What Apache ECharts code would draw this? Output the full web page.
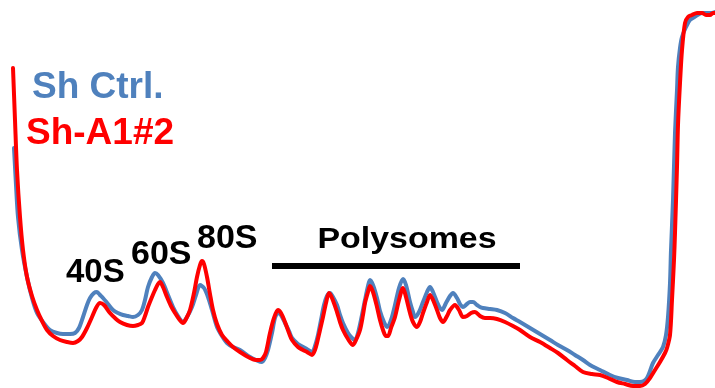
<!DOCTYPE html>
<html>
<head>
<meta charset="utf-8">
<script src="https://cdn.jsdelivr.net/npm/echarts@6/dist/echarts.min.js"></script>
<style>html,body{margin:0;padding:0;background:#fff;}#c{width:715px;height:388px;}</style>
</head>
<body>
<div id="c"></div>
<script>
// Sedimentation position (x) and absorbance (y, arbitrary units)
const ctrlProfile = [
[14,240],[16,203],[18,171],[22,138],[27,111],[32,90],[37,75],[43,66],[50,58],[57,55],[63,54],[70,54],[75,55],[79,60],[83,71],[87,83],[90,90],[94,95],[97,96],[100,93],[103,90],[108,84],[113,78],[118,75],[123,73],[128,72],[133,71],[138,73],[142,78],[145,88],[148,101],[152,111],[155,115],[158,113],[163,105],[168,93],[173,81],[178,72],[183,66],[187,71],[192,81],[196,93],[200,103],[204,100],[208,91],[212,78],[217,61],[222,52],[227,45],[233,41],[240,38],
[250,31],[256,28],[262,26],[265,30],[268,38],[272,55],[275,70],[278,75],[281,73],[285,65],[289,57],[292,50],[298,44],[305,40],[312,36],[315,42],[318,53],[321,68],[324,83],[327,92],[330,95],[333,91],[337,83],[340,73],[343,65],[348,55],[352,50],[355,48],[358,55],[362,73],[365,88],[368,102],[370,108],[373,103],[377,90],[380,77],[384,66],[387,61],[391,68],[395,83],[399,100],[403,109],[406,103],[410,86],[413,76],[415,71],[419,76],[423,86],[427,96],[430,101],[433,96],[437,86],[440,80],[442,78],[446,85],[450,92],[453,95],[457,90],[460,84],[463,81],[467,84],[470,86],[473,86],[477,83],[480,81],[483,80],[490,79],[497,78],[505,75],[513,70],[520,66],[530,60],
[540,54],[550,48],[558,43],[567,38],[575,33],[583,28],[590,23],[600,18],[610,13],[618,10],[627,8],[635,6],[640,6],[644,7],[647,10],[650,17],[653,25],[658,33],[663,41],[666,53],[668,71],[670,105],[671,138],[673,188],[675,255],[677,298],[678,321],[680,340],[682,351],[686,361],[690,368],[696,372],[702,375],[707,375],[712,375],[715,376]
];
const a1Profile = [
[13,320],[15,268],[17,218],[20,171],[23,138],[27,111],[32,92],[37,78],[42,67],[47,58],[53,52],[60,48],[67,46],[73,45],[78,47],[82,51],[87,60],[92,71],[96,80],[100,85],[104,83],[110,75],[115,70],[120,66],[127,63],[133,62],[138,63],[142,65],[145,72],[148,81],[152,91],[155,98],[158,104],[160,106],[163,101],[167,91],[171,82],[175,75],[179,69],[183,65],[186,69],[190,78],[194,95],[197,111],[200,123],[202,127],[204,124],[207,111],[210,94],[213,78],[217,64],[222,53],[228,46],[233,41],[240,36],
[250,30],[256,28],[260,28],[263,30],[266,36],[270,55],[274,70],[278,78],[281,75],[285,66],[289,55],[292,48],[298,41],[303,38],[307,36],[312,33],[315,38],[317,45],[320,58],[323,71],[326,85],[329,95],[332,90],[337,76],[340,66],[343,58],[348,49],[353,43],[356,48],[360,58],[363,73],[365,85],[368,96],[370,102],[373,96],[377,81],[380,68],[383,58],[386,52],[388,52],[391,60],[395,71],[399,88],[403,100],[406,91],[410,75],[413,66],[417,61],[420,66],[423,75],[427,86],[430,93],[433,88],[437,78],[440,70],[443,66],[447,72],[450,78],[455,83],[459,78],[463,71],[467,72],[471,75],[475,76],[480,72],[485,70],[490,70],[497,69],[505,66],[513,62],[520,58],[530,51],
[540,46],[550,40],[558,35],[567,28],[575,22],[583,16],[592,14],[600,13],[608,10],[617,6],[625,4],[633,2],[640,2],[645,4],[650,10],[655,18],[660,26],[665,35],[667,40],[670,53],[672,88],[674,128],[675,155],[677,221],[678,263],[680,305],[682,338],[685,365],[688,371],[692,373],[697,375],[702,375],[706,373],[710,373],[713,375],[715,375]
];
const seriesNames = ['Sh Ctrl.', 'Sh-A1#2'];
const polysomeSpan = [272, 520];
const polysomeLevel = 122;

const chart = echarts.init(document.getElementById('c'), null, {renderer: 'canvas'});
const FONT = '"Liberation Sans", Arial, sans-serif';
function label(text, x, y, size, color, scaleX) {
  return {
    type: 'text', x: x, y: y, scaleX: scaleX || 1, silent: true, z: 100,
    style: {text: text, x: 0, y: 0, fill: color, fontFamily: FONT, fontWeight: 'bold', fontSize: size,
            textAlign: 'left', textVerticalAlign: 'middle'}
  };
}
chart.setOption({
  animation: false,
  backgroundColor: '#fff',
  grid: {left: 0, right: 0, top: 0, bottom: 0},
  xAxis: {type: 'value', min: 0, max: 715, show: false},
  yAxis: {type: 'value', min: 0, max: 388, show: false},
  series: [
    {name: seriesNames[0], type: 'line', data: ctrlProfile, showSymbol: false, smooth: 0.3,
     lineStyle: {color: '#4F81BD', width: 4, join: 'round', cap: 'round'}, z: 2},
    {name: seriesNames[1], type: 'line', data: a1Profile, showSymbol: false, smooth: 0.3,
     lineStyle: {color: '#FF0000', width: 4, join: 'round', cap: 'round'}, z: 3,
     markLine: {silent: true, symbol: ['none','none'], label: {show: false},
       lineStyle: {color: '#000', width: 6, type: 'solid'},
       data: [[{coord: [polysomeSpan[0], polysomeLevel]}, {coord: [polysomeSpan[1], polysomeLevel]}]]}}
  ],
  graphic: [
    label(seriesNames[0], 32, 88, 37, '#4F81BD'),
    label(seriesNames[1], 26, 134, 37, '#FF0000'),
    label('40S', 66, 273, 33, '#000'),
    label('60S', 131, 255, 34, '#000'),
    label('80S', 197, 239, 34, '#000'),
    {type: 'text', x: 407, y: 240, scaleX: 1.13, silent: true, z: 100,
     style: {text: 'Polysomes', x: 0, y: 0, fill: '#000', fontFamily: FONT, fontWeight: 'bold', fontSize: 30,
             textAlign: 'center', textVerticalAlign: 'middle'}}
  ]
});
</script>
</body>
</html>
